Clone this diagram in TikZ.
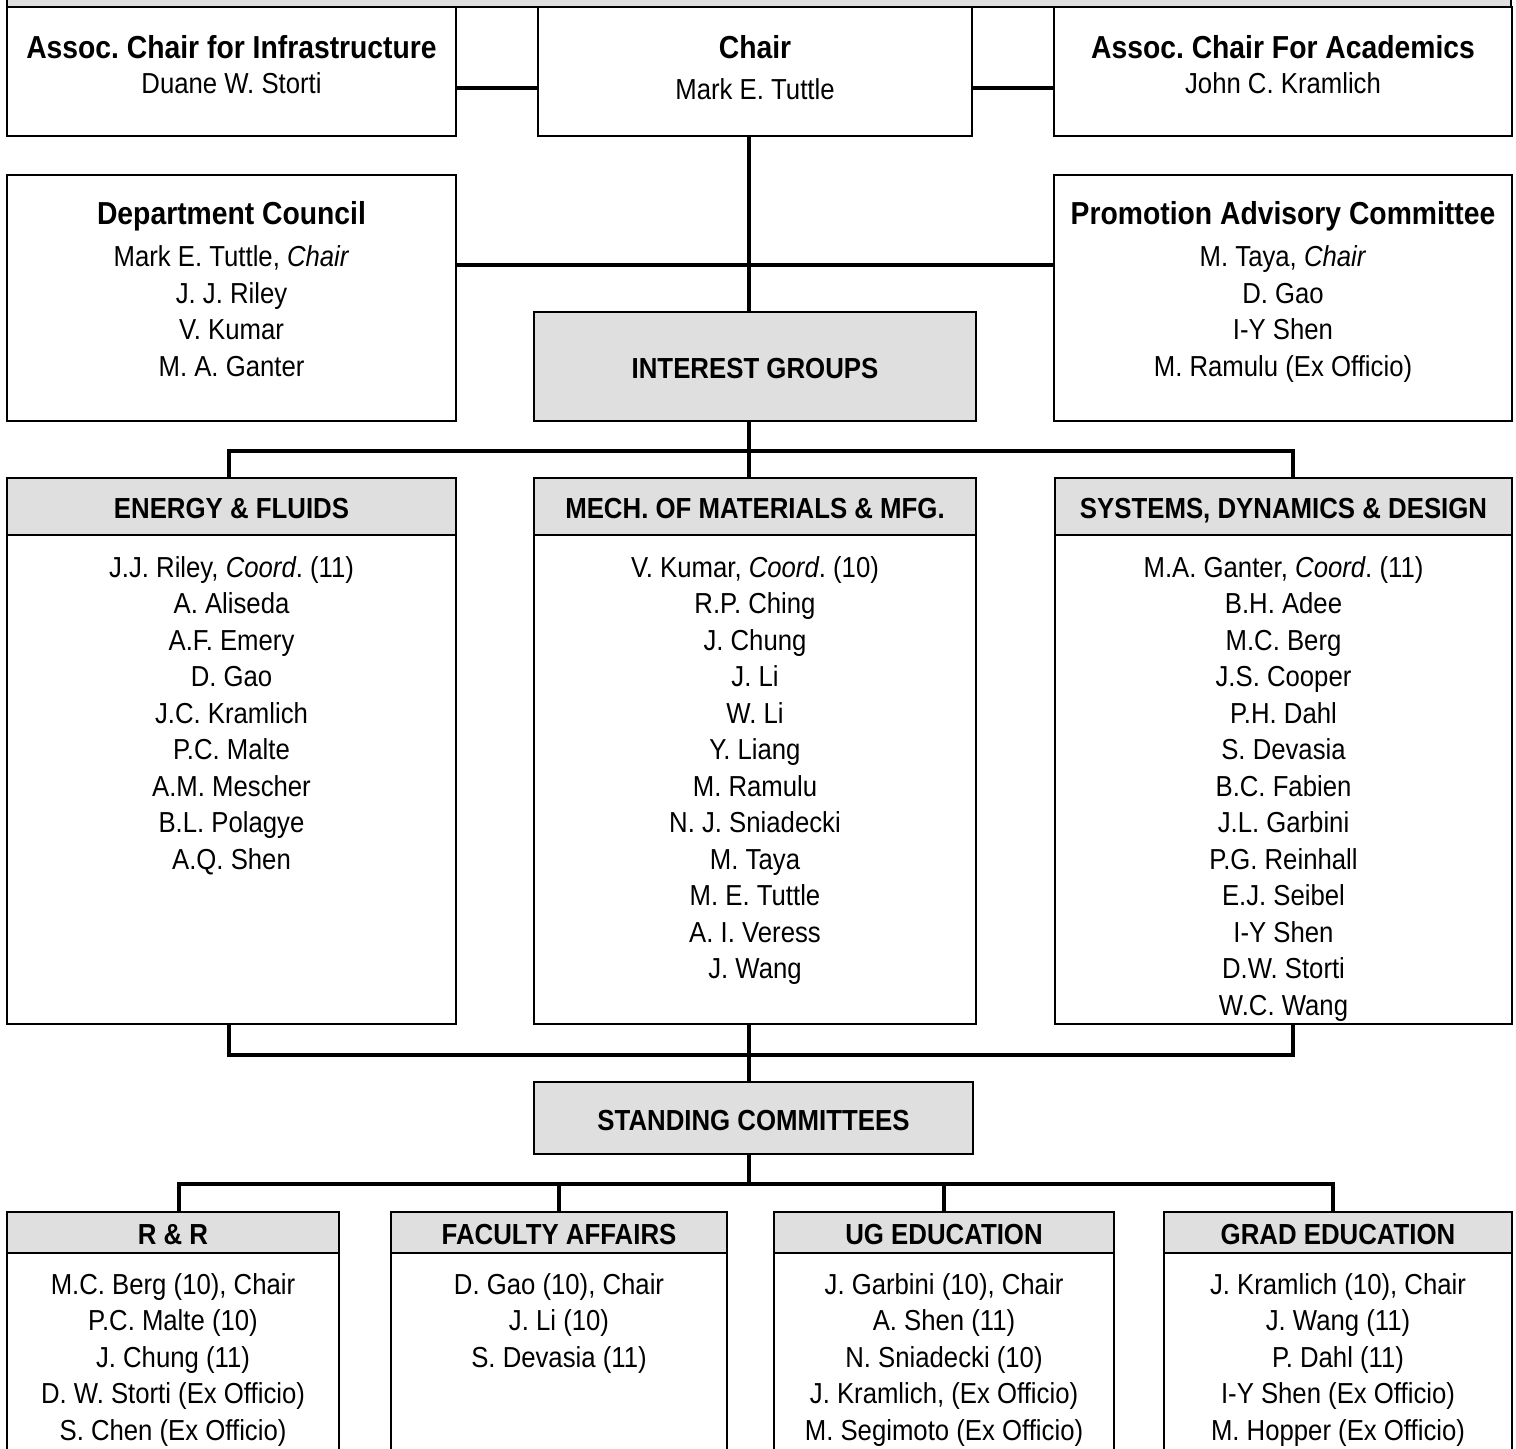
\documentclass[tikz,border=0pt]{standalone}
\usepackage{fontspec}
\setmainfont{Liberation Sans}[FakeStretch=0.89]
\usetikzlibrary{fit}
\definecolor{hdr}{RGB}{223,223,223}
\frenchspacing
\begin{document}
\begin{tikzpicture}[x=0.5pt,y=-0.5pt,
  box/.style={draw=black, line width=0.85pt, inner sep=0pt, outer sep=0pt},
  gbox/.style={box, fill=hdr},
  hbox/.style={gbox, anchor=north west, font=\fontsize{14.5}{18}\selectfont\bfseries\frenchspacing, text height=12pt, text depth=0pt},
  conn/.style={line width=1.85pt},
  ttl/.style={inner sep=0pt, anchor=north, align=center, font=\fontsize{15.9}{18.25}\selectfont\bfseries\frenchspacing},
  lst/.style={inner sep=0pt, anchor=north, align=center, font=\fontsize{14.45}{18.25}\selectfont\frenchspacing}
]
\useasboundingbox (0,0) rectangle (1516,1448);

% top band (cut off)
\node[gbox, fit={(7,-40) (1511,7)}] (topband) {};

% top row
\node[box, fit={(7,7) (456,136)}] (infra) {};
\node[box, fit={(538,7) (972,136)}] (chair) {};
\node[box, fit={(1054,7) (1512,136)}] (acad) {};
\node[ttl] (infraT) at (231.5,32.4) {\rule{0pt}{13pt}Assoc. Chair for Infrastructure};
\node[lst] (infraN) at (231.5,67.4) {\rule{0pt}{13pt}Duane W. Storti};
\node[ttl] (chairT) at (755,32.4) {\rule{0pt}{13pt}Chair};
\node[lst] (chairN) at (755,73.4) {\rule{0pt}{13pt}Mark E. Tuttle};
\node[ttl] (acadT) at (1283,32.4) {\rule{0pt}{13pt}Assoc. Chair For Academics};
\node[lst] (acadN) at (1283,67.4) {\rule{0pt}{13pt}John C. Kramlich};

% council / promotion
\node[box, fit={(7,175) (456,421)}] (council) {};
\node[box, fit={(1054,175) (1512,421)}] (promo) {};
\node[ttl] (councilT) at (231.5,198.4) {\rule{0pt}{13pt}Department Council};
\node[lst] (councilL) at (231.5,240.4) {\rule{0pt}{13pt}Mark E. Tuttle, \textit{Chair}\\J. J. Riley\\V. Kumar\\M. A. Ganter};
\node[ttl] (promoT) at (1283,198.4) {\rule{0pt}{13pt}Promotion Advisory Committee};
\node[lst] (promoL) at (1283,240.4) {\rule{0pt}{13pt}M. Taya, \textit{Chair}\\D. Gao\\I-Y Shen\\M. Ramulu (Ex Officio)};

% interest groups
\node[hbox, minimum width=221pt, minimum height=54.5pt] (ig) at (534,312) {INTEREST GROUPS};

\node[box, fit={(7,478) (456,1024)}] (energy) {};
\node[hbox, minimum width=224.5pt, minimum height=28.5pt] (energyH) at (7,478) {ENERGY \& FLUIDS};
\node[box, fit={(534,478) (976,1024)}] (mech) {};
\node[hbox, minimum width=221pt, minimum height=28.5pt] (mechH) at (534,478) {MECH. OF MATERIALS \& MFG.};
\node[box, fit={(1055,478) (1512,1024)}] (systems) {};
\node[hbox, minimum width=228.5pt, minimum height=28.5pt] (systemsH) at (1055,478) {SYSTEMS, DYNAMICS \& DESIGN};

\node[lst] (energyL) at (231.5,551) {\rule{0pt}{13pt}J.J. Riley, \textit{Coord}. (11)\\A. Aliseda\\A.F. Emery\\D. Gao\\J.C. Kramlich\\P.C. Malte\\A.M. Mescher\\B.L. Polagye\\A.Q. Shen};
\node[lst] (mechL) at (755,551) {\rule{0pt}{13pt}V. Kumar, \textit{Coord}. (10)\\R.P. Ching\\J. Chung\\J. Li\\W. Li\\Y. Liang\\M. Ramulu\\N. J. Sniadecki\\M. Taya\\M. E. Tuttle\\A. I. Veress\\J. Wang};
\node[lst] (systemsL) at (1283.5,551) {\rule{0pt}{13pt}M.A. Ganter, \textit{Coord}. (11)\\B.H. Adee\\M.C. Berg\\J.S. Cooper\\P.H. Dahl\\S. Devasia\\B.C. Fabien\\J.L. Garbini\\P.G. Reinhall\\E.J. Seibel\\I-Y Shen\\D.W. Storti\\W.C. Wang};

% standing committees
\node[hbox, minimum width=219.5pt, minimum height=36pt] (standing) at (534,1082) {STANDING COMMITTEES};

\node[box, fit={(7,1212) (339,1470)}] (rr) {};
\node[hbox, minimum width=166pt, minimum height=20.5pt] (rrH) at (7,1212) {R \& R};
\node[box, fit={(391,1212) (727,1470)}] (fa) {};
\node[hbox, minimum width=168pt, minimum height=20.5pt] (faH) at (391,1212) {FACULTY AFFAIRS};
\node[box, fit={(774,1212) (1114,1470)}] (ug) {};
\node[hbox, minimum width=170pt, minimum height=20.5pt] (ugH) at (774,1212) {UG EDUCATION};
\node[box, fit={(1164,1212) (1512,1470)}] (grad) {};
\node[hbox, minimum width=174pt, minimum height=20.5pt] (gradH) at (1164,1212) {GRAD EDUCATION};

\node[lst] (rrL) at (173,1268) {\rule{0pt}{13pt}M.C. Berg (10), Chair\\P.C. Malte (10)\\J. Chung (11)\\D. W. Storti (Ex Officio)\\S. Chen (Ex Officio)};
\node[lst] (faL) at (559,1268) {\rule{0pt}{13pt}D. Gao (10), Chair\\J. Li (10)\\S. Devasia (11)};
\node[lst] (ugL) at (944,1268) {\rule{0pt}{13pt}J. Garbini (10), Chair\\A. Shen (11)\\N. Sniadecki (10)\\J. Kramlich, (Ex Officio)\\M. Segimoto (Ex Officio)};
\node[lst] (gradL) at (1338,1268) {\rule{0pt}{13pt}J. Kramlich (10), Chair\\J. Wang (11)\\P. Dahl (11)\\I-Y Shen (Ex Officio)\\M. Hopper (Ex Officio)};

% connectors
\coordinate (bus1) at (749,451);
\coordinate (bus2) at (749,1055);
\coordinate (bus3) at (749,1184);
\draw[conn] ([yshift=-8.25pt]infra.east) -- ([yshift=-8.25pt]chair.west);
\draw[conn] ([yshift=-8.25pt]chair.east) -- ([yshift=-8.25pt]acad.west);
\draw[conn] (bus1 |- chair.south) -- (bus1 |- ig.north);
\draw[conn] ([yshift=16.5pt]council.east) -- ([yshift=16.5pt]promo.west);
\draw[conn] (bus1 |- ig.south) -- (bus1 |- mech.north);
\draw[conn] ([xshift=-1.25pt]energy.north) |- (bus1) -| ([xshift=4.75pt]systems.north);
\draw[conn] ([xshift=-1.25pt]energy.south) |- (bus2) -| ([xshift=4.75pt]systems.south);
\draw[conn] (bus2 |- mech.south) -- (bus2 |- standing.north);
\draw[conn] (bus3 |- standing.south) -- (bus3);
\draw[conn] ([xshift=3pt]rr.north) |- (bus3) -| ([xshift=-2.5pt]grad.north);
\draw[conn] (fa.north) -- (fa.north |- bus3);
\draw[conn] (ug.north) -- (ug.north |- bus3);
\end{tikzpicture}
\end{document}
